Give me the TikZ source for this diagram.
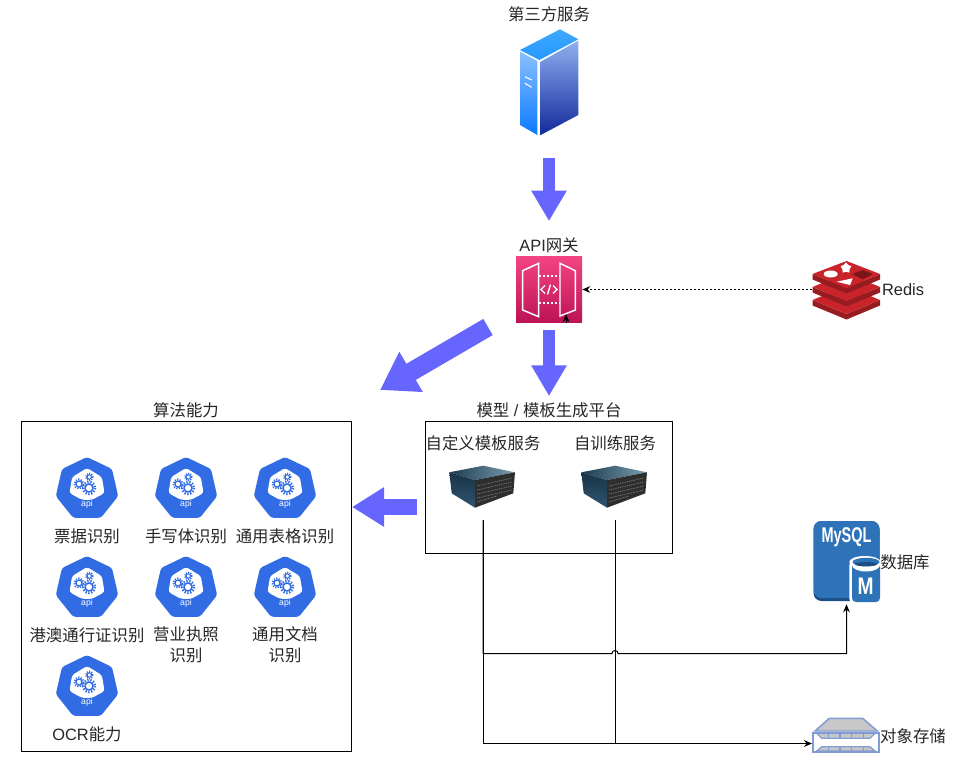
\documentclass[tikz,border=0pt]{standalone}
\usepackage{fontspec}
\setmainfont{Liberation Sans}
\newfontfamily\cjk{Noto Sans CJK SC}
\usepackage{tikz}
\usetikzlibrary{shapes.geometric,arrows.meta,calc}
\usepackage{xcolor}
\definecolor{flowcolor}{RGB}{102, 102, 255}
\definecolor{apicolor}{RGB}{50, 108, 229}
\definecolor{mysqlcolor}{RGB}{46, 115, 184}
\definecolor{mysqldark}{RGB}{29, 79, 135}
\definecolor{rediscolor}{RGB}{200, 36, 42}
\definecolor{redisdark}{RGB}{150, 28, 32}
\definecolor{storeline}{RGB}{130, 155, 212}

\tikzset{
    serverpic/.pic={
        \shade[top color={rgb,255:red,60;green,170;blue,255}, bottom color={rgb,255:red,40;green,150;blue,255}] (-29,-32) -- (11,-52.7) -- (29.3,-42.7) -- (-9.7,-22) -- cycle;
        \shade[top color={rgb,255:red,138;green,192;blue,255}, bottom color={rgb,255:red,10;green,122;blue,255}] (-29,-30.3) -- (-11.7,-21) -- (-11.7,53) -- (-29,43) -- cycle;
        \shade[top color={rgb,255:red,143;green,176;blue,240}, bottom color={rgb,255:red,18;green,41;blue,154}] (-8.3,-20.3) -- (29.3,-41.3) -- (29.3,33) -- (-8.3,53) -- cycle;
        \draw[white, line width=.8pt] (-24,-5.3) -- (-17.3,-2) (-24,1.3) -- (-17.3,5.3);
    },
    gatewaypic/.pic={
        \shade[top color={rgb,255:red,243;green,68;blue,130}, bottom color={rgb,255:red,188;green,19;blue,86}] (-33,-33) rectangle (33,33);
        \draw[white, line width=1.1pt] (-26.3,-18.8) -- (-10.3,-26.2) -- (-10.3,27.2) -- (-26.3,20.5) -- cycle;
        \draw[white, line width=1.1pt] (11,-26.2) -- (26.3,-18.8) -- (26.3,20.5) -- (11,26.5) -- cycle;
        \draw[white, line width=1.2pt, dash pattern=on 1.5pt off 1.5pt] (-10,-13.5) -- (11,-13.5) (-10,13.2) -- (11,13.2);
        \draw[white, line width=1pt] (-4,-4) -- (-8,0) -- (-4,4) (-1.5,5) -- (1.5,-5) (4,-4) -- (8,0) -- (4,4);
    },
    redispic/.pic={
        % three slabs, lowest first
        \fill[redisdark] (-34,10.5) -- (0,24.5) -- (33.5,10.5) -- (33.5,16) -- (0,30) -- (-34,16) -- cycle;
        \fill[rediscolor] (-34,10.5) -- (0,-3.5) -- (33.5,10.5) -- (0,24.5) -- cycle;
        \fill[redisdark] (-34,-2.5) -- (0,11.5) -- (33.5,-2.5) -- (33.5,3) -- (0,17) -- (-34,3) -- cycle;
        \fill[rediscolor] (-34,-2.5) -- (0,-16.5) -- (33.5,-2.5) -- (0,11.5) -- cycle;
        \fill[redisdark] (-34,-15.5) -- (0,-1.5) -- (33.5,-15.5) -- (33.5,-10) -- (0,4) -- (-34,-10) -- cycle;
        \fill[rediscolor] (-34,-15.5) -- (0,-28.5) -- (33.5,-15.5) -- (0,-1.5) -- cycle;
        \fill[white] (-15.8,-15.5) ellipse (7 and 3.5);
        \node[star, star points=5, fill=white, inner sep=0pt, minimum size=8.5pt] (redisstar) at (-0.5,-21.5) {};
        \fill[white] (-9.8,-7.8) -- (6.2,-11.2) -- (3.5,-4.5) -- cycle;
        \fill[redisdark!80!black] (5.8,-15.5) -- (16.2,-19.5) -- (26.2,-15.5) -- (16.2,-10.2) -- cycle;
    },
    rackpic/.pic={
        \shade[left color={rgb,255:red,29;green,58;blue,80}, right color={rgb,255:red,123;green,159;blue,176}] (-33.7,-16.7) -- (0.3,-23.3) -- (32,-16.7) -- (-8,-9) -- cycle;
        \shade[top color={rgb,255:red,26;green,51;blue,70}, bottom color={rgb,255:red,46;green,85;blue,112}] (-33.7,-16.7) -- (-8,-9) -- (-8,18.7) -- (-31.3,4.3) -- cycle;
        \fill[black!82] (-8,-9) -- (32,-16.7) -- (30.3,4.3) -- (-8,18.7) -- cycle;
        \draw[black!55, line width=.6pt, dash pattern=on .8pt off .6pt] (-6,-3) -- (29,-11) (-6,1) -- (29,-7) (-6,5) -- (29,-3) (-6,9) -- (29,1) (-6,13) -- (14,7);
    },
    apipic/.pic={
        \fill[apicolor, rounded corners=2pt] (-90:32) -- (-38.6:32) -- (12.9:32) -- (64.3:32) -- (115.7:32) -- (167.1:32) -- (218.6:32) -- cycle;
        \fill[white, rounded corners=2pt] (-90:21) -- (-38.6:19) -- (12.9:18) -- (64.3:12) -- (115.7:12) -- (167.1:18) -- (218.6:19) -- cycle;
        % gears
        \draw[apicolor, line width=1.1pt] (2,-1) circle (4);
        \draw[apicolor, line width=1.8pt, dash pattern=on 1pt off 1.2pt] (2,-1) circle (6);
        \draw[apicolor, line width=.9pt] (-8,-5) circle (3);
        \draw[apicolor, line width=1.4pt, dash pattern=on .9pt off 1pt] (-8,-5) circle (4.6);
        \draw[apicolor, line width=.8pt] (2.3,-12) circle (2.2);
        \draw[apicolor, line width=1.2pt, dash pattern=on .8pt off .9pt] (2.3,-12) circle (3.5);
        \node[white, inner sep=0pt, font=\fontsize{6.5}{7}\selectfont] (apiword) at (0,15) {api};
    },
    mysqlpic/.pic={
        \fill[mysqldark, rounded corners=6pt] (-33,-40) rectangle (33,40);
        \fill[mysqlcolor, rounded corners=6pt] (-33,-40) rectangle (33,37);
        \node[white, inner sep=0pt, xscale=.68, font=\fontsize{16}{16}\bfseries\selectfont] (mysqlword) at (0,-24) {MySQL};
        \fill[white, rounded corners=3pt] (2.8,0) rectangle (34,42);
        \fill[white] (18.4,1) ellipse (15.6 and 6);
        \fill[mysqlcolor, rounded corners=3pt] (5.5,2) rectangle (33.5,41);
        \fill[white] (19.5,4) ellipse (14 and 6.5);
        \fill[mysqlcolor] (19.5,1) ellipse (13.5 and 4.2);
        \fill[mysqldark] (19.5,3.2) ellipse (11 and 2.2);
        \node[white, inner sep=0pt, xscale=.8, font=\fontsize{18}{18}\bfseries\selectfont] (mword) at (19,25.5) {M};
    },
    storagepic/.pic={
        \filldraw[fill=black!22, draw=storeline, line width=1.1pt] (-31,-4) -- (-16.7,-16.7) -- (16.7,-16.7) -- (31.3,-4) -- cycle;
        \draw[storeline, fill=white, line width=1.4pt] (-33.3,-1.7) rectangle (33.3,17.3);
        \filldraw[fill=black!22, draw=storeline, line width=.9pt] (-29.3,-1.7) -- (29,-1.7) -- (24,3.3) -- (-24.3,3.3) -- cycle;
        \filldraw[fill=black!22, draw=storeline, line width=.9pt] (-29.3,16) -- (-24.3,11.7) -- (24,11.7) -- (29,16) -- cycle;
        \draw[storeline, line width=.8pt] (-17.7,-1.7) -- (-17.7,3.3) (-6,-1.7) -- (-6,3.3) (5.7,-1.7) -- (5.7,3.3) (17.3,-1.7) -- (17.3,3.3);
        \draw[storeline, line width=.8pt] (-17.7,11.7) -- (-17.7,16) (-6,11.7) -- (-6,16) (5.7,11.7) -- (5.7,16) (17.3,11.7) -- (17.3,16);
    },
}

\begin{document}
\begin{tikzpicture}[
    x=0.75pt, y=-0.75pt,
    label/.style={inner sep=0pt, align=center, text=black!85, font=\fontsize{12.3}{15.75}\selectfont},
    panel/.style={rectangle, draw, line width=0.75pt, inner sep=0pt},
    iconbox/.style={rectangle, inner sep=0pt, minimum width=49.5pt, minimum height=46.5pt},
    flow/.style={flowcolor, line width=9.5pt, -{Triangle[length=23pt,width=25pt]}},
    wideflow/.style={flowcolor, line width=12pt, -{Triangle[length=24pt,width=28pt]}},
    slantflow/.style={flowcolor, line width=14pt, -{Triangle[length=27pt,width=33pt]}},
    wire/.style={black, line width=0.75pt},
    tip/.style={-{Stealth[length=6pt,width=5pt]}},
]
    \useasboundingbox (0,0) rectangle (978,767);

    % Third party service
    \node[iconbox, minimum width=43.5pt, minimum height=79.5pt] (server) at (549,82) {};
    \pic at (server) {serverpic};
    \node[label] (serverlabel) at (549,14) {{\cjk 第三方服务}};

    % Gateway
    \node[iconbox] (gateway) at (549,289.5) {};
    \pic at (gateway) {gatewaypic};
    \node[label] (gatewaylabel) at (549,245) {API{\cjk 网关}};

    % Redis
    \node[iconbox, minimum width=51pt] (redis) at (846.5,289.5) {};
    \pic at (redis) {redispic};
    \node[label] (redislabel) at (903,290) {Redis};

    % Algorithm panel
    \node[panel, minimum width=247.5pt, minimum height=247.5pt] (algobox) at (186,586) {};
    \node[label] (algolabel) at (186,410) {{\cjk 算法能力}};

    \node[iconbox] (ticket) at (87,489) {};
    \node[iconbox] (handwrite) at (186,489) {};
    \node[iconbox] (tablerec) at (285,489) {};
    \node[iconbox] (permit) at (87,588) {};
    \node[iconbox] (license) at (186,588) {};
    \node[iconbox] (document) at (285,588) {};
    \node[iconbox] (ocr) at (87,687) {};
    \pic at (ticket) {apipic};
    \pic at (handwrite) {apipic};
    \pic at (tablerec) {apipic};
    \pic at (permit) {apipic};
    \pic at (license) {apipic};
    \pic at (document) {apipic};
    \pic at (ocr) {apipic};

    \node[label] (ticketlabel) at (87,536) {{\cjk 票据识别}};
    \node[label] (handwritelabel) at (186,536) {{\cjk 手写体识别}};
    \node[label] (tablereclabel) at (285,536) {{\cjk 通用表格识别}};
    \node[label] (permitlabel) at (87,635) {{\cjk 港澳通行证识别}};
    \node[label] (licenselabel) at (186,644.5) {{\cjk 营业执照}\\{\cjk 识别}};
    \node[label] (documentlabel) at (285,644.5) {{\cjk 通用文档}\\{\cjk 识别}};
    \node[label] (ocrlabel) at (87,734) {OCR{\cjk 能力}};

    % Model platform
    \node[panel, minimum width=185.25pt, minimum height=99pt] (modelbox) at (548.5,487) {};
    \node[label] (modellabel) at (549,410) {{\cjk 模型} / {\cjk 模板生成平台}};
    \node[label] (customlabel) at (483,443) {{\cjk 自定义模板服务}};
    \node[label] (trainlabel) at (615,443) {{\cjk 自训练服务}};

    \node[iconbox] (customsrv) at (483,489) {};
    \node[iconbox] (trainsrv) at (615,489) {};
    \pic at (customsrv) {rackpic};
    \pic at (trainsrv) {rackpic};

    % Storage
    \node[iconbox, minimum height=64.5pt] (mysql) at (846.5,561) {};
    \pic at (mysql) {mysqlpic};
    \node[label] (mysqllabel) at (905,562) {{\cjk 数据库}};

    \node[iconbox, minimum height=25.5pt] (storage) at (846,735) {};
    \pic at (storage) {storagepic};
    \node[label] (storagelabel) at (913,736) {{\cjk 对象存储}};

    % Free ends
    \coordinate (gwout) at (488,327);
    \coordinate (algoin) at (380,390);
    \coordinate (modelout) at (417,507);
    \coordinate (algoside) at (352,507);
    \coordinate (gwstub) at (566,322.5);
    \coordinate (gwtip) at (566,314);
    \coordinate (jumpa) at (612,653.5);
    \coordinate (jumpb) at (618,653.5);
    \coordinate (storein) at (812,743.5);

    % Big arrows
    \draw[flow, shorten <=17.25pt, shorten >=12pt] (server) -- (gatewaylabel);
    \draw[flow, shorten <=7pt, shorten >=4.5pt] (gateway) -- (modellabel);
    \draw[slantflow] (gwout) -- (algoin);
    \draw[wideflow] (modelout) -- (algoside);

    % Thin links
    \draw[wire, tip, line width=0.6pt, dash pattern=on 1.5pt off 1.5pt] (redis) -- (gateway);
    \draw[wire, tip] (gwstub) -- (gwtip);
    \draw[wire, tip] (customsrv.south) |- (jumpa) .. controls +(0,-4) and +(0,-4) .. (jumpb) -- (jumpb -| mysql.south) -- (mysql.south);
    \draw[wire, tip] (customsrv.south) |- (storein);
    \draw[wire] (trainsrv.south) -- (trainsrv.south |- storein);
\end{tikzpicture}
\end{document}
